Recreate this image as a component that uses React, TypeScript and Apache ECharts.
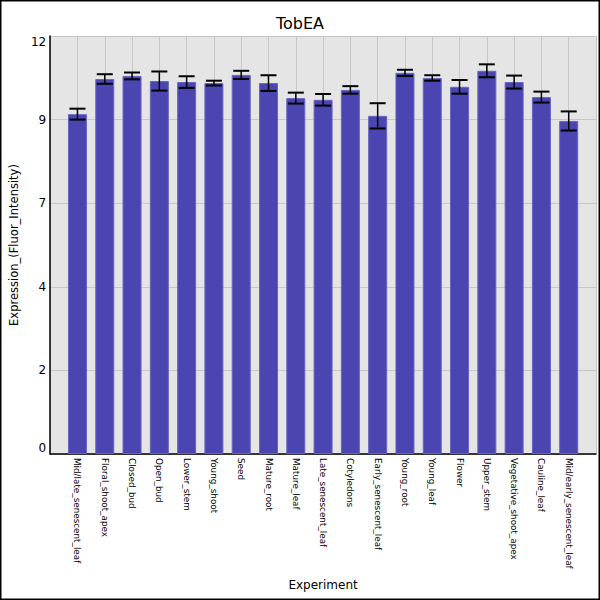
import React, { useEffect, useRef } from "react";
import * as echarts from "echarts";

const categories = [
  "Mid/late_senescent_leaf",
  "Floral_shoot_apex",
  "Closed_bud",
  "Open_bud",
  "Lower_stem",
  "Young_shoot",
  "Seed",
  "Mature_root",
  "Mature_leaf",
  "Late_senescent_leaf",
  "Cotyledons",
  "Early_senescent_leaf",
  "Young_root",
  "Young_leaf",
  "Flower",
  "Upper_stem",
  "Vegetative_shoot_apex",
  "Cauline_leaf",
  "Mid/early_senescent_leaf",
];

const values = [
  9.96, 10.99, 11.08, 10.93, 10.9, 10.87, 11.11, 10.87, 10.43, 10.38, 10.67,
  9.91, 11.17, 11.02, 10.76, 11.23, 10.9, 10.46, 9.76,
];

const errors = [
  0.16, 0.14, 0.1, 0.28, 0.17, 0.07, 0.12, 0.23, 0.16, 0.17, 0.11, 0.37, 0.09,
  0.08, 0.2, 0.19, 0.19, 0.16, 0.28,
];

const Y_MAX = 12.25;
const Y_STEP = 2.45;

export default function App() {
  const ref = useRef<HTMLDivElement>(null);

  useEffect(() => {
    document.body.style.margin = "0";
    if (!ref.current) return;
    const chart = echarts.init(ref.current, null, { renderer: "svg" });
    const barData = values.map((v, i) => [i, v]);
    const errData = values.map((v, i) => [i, v - errors[i], v + errors[i]]);
    chart.setOption({
      animation: false,
      backgroundColor: "#ffffff",
      textStyle: { fontFamily: "DejaVu Sans" },
      title: {
        text: "TobEA",
        left: "center",
        top: 10,
        textStyle: {
          fontSize: 16,
          fontWeight: "normal",
          color: "#000",
          fontFamily: "DejaVu Sans",
        },
      },
      graphic: [
        {
          type: "rect",
          shape: { x: 0.75, y: 0.75, width: 598.5, height: 598.5 },
          style: { fill: "none", stroke: "#000", lineWidth: 1.5 },
          z: 100,
        },
      ],
      grid: {
        left: 50,
        right: 4,
        top: 36,
        bottom: 146,
        show: true,
        backgroundColor: "#e5e5e5",
        borderWidth: 0,
      },
      xAxis: {
        type: "value",
        min: -1,
        max: categories.length,
        interval: 1,
        name: "Experiment",
        nameLocation: "middle",
        nameGap: 125,
        nameTextStyle: { fontSize: 12, color: "#000" },
        axisLine: {
          show: true,
          onZero: false,
          lineStyle: { color: "#000", width: 1.5 },
        },
        axisTick: { show: false },
        splitLine: { show: true, lineStyle: { color: "#c6c6c6", width: 1 } },
        showMinLabel: false,
        showMaxLabel: false,
        axisLabel: {
          rotate: -90,
          margin: 4,
          fontSize: 8.8,
          color: "#000",
          interval: 0,
          formatter: (v: number) => categories[v] ?? "",
        },
      },
      yAxis: {
        type: "value",
        min: 0,
        max: Y_MAX,
        interval: Y_STEP,
        name: "Expression_(Fluor_Intensity)",
        nameLocation: "middle",
        nameGap: 22,
        nameTextStyle: { fontSize: 11.5, color: "#000" },
        axisLine: {
          show: true,
          onZero: false,
          lineStyle: { color: "#000", width: 1.5 },
        },
        axisTick: { show: false },
        splitLine: { show: true, lineStyle: { color: "#c6c6c6", width: 1 } },
        axisLabel: {
          fontSize: 12,
          color: "#000",
          margin: 4,
          verticalAlignMinLabel: "bottom",
          verticalAlignMaxLabel: "top",
          formatter: (v: number) => String(Math.floor(v + 1e-9)),
        },
      },
      series: [
        {
          type: "bar",
          data: barData,
          barWidth: 19,
          itemStyle: {
            color: "#4a45b1",
            borderColor: "#6864c2",
            borderWidth: 1,
          },
          z: 2,
        },
        {
          type: "custom",
          data: errData,
          z: 3,
          renderItem: (params: any, api: any) => {
            const x = api.value(0);
            const lo = api.coord([x, api.value(1)]);
            const hi = api.coord([x, api.value(2)]);
            const hw = 8;
            return {
              type: "group",
              children: [
                {
                  type: "line",
                  shape: { x1: lo[0], y1: lo[1], x2: hi[0], y2: hi[1] },
                  style: { stroke: "#000", lineWidth: 1.5 },
                },
                {
                  type: "line",
                  shape: { x1: lo[0] - hw, y1: lo[1], x2: lo[0] + hw, y2: lo[1] },
                  style: { stroke: "#000", lineWidth: 2 },
                },
                {
                  type: "line",
                  shape: { x1: hi[0] - hw, y1: hi[1], x2: hi[0] + hw, y2: hi[1] },
                  style: { stroke: "#000", lineWidth: 2 },
                },
              ],
            };
          },
        },
      ],
    });
    return () => chart.dispose();
  }, []);

  return <div ref={ref} style={{ width: 600, height: 600 }} />;
}
